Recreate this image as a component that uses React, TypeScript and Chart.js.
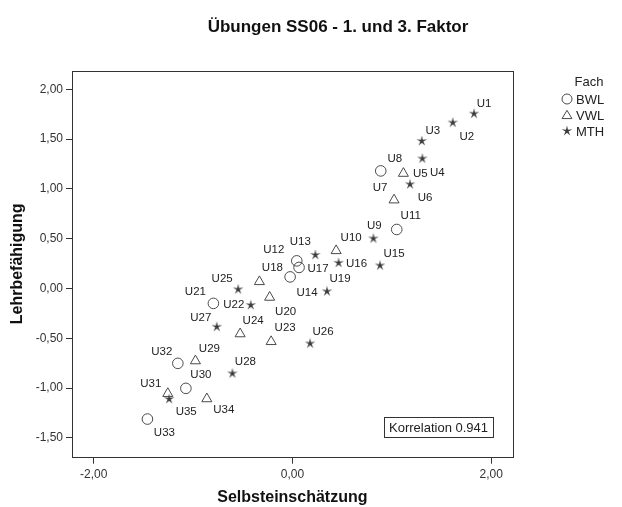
import React, { useEffect, useRef } from 'react';
import { Chart, registerables } from 'chart.js';

Chart.register(...registerables);

// ---------- texts ----------
const chartTitle = 'Übungen SS06 - 1. und 3. Faktor';
const xAxisTitle = 'Selbsteinschätzung';
const yAxisTitle = 'Lehrbefähigung';
const legendTitle = 'Fach';
const correlationText = 'Korrelation 0.941';

// ---------- data ----------
const groupNames = ['BWL', 'VWL', 'MTH'];

const bwlLabels = ['U8', 'U11', 'U12', 'U17', 'U14', 'U21', 'U32', 'U30', 'U33'];
const bwlX = [0.889, 1.05, 0.044, 0.067, -0.023, -0.795, -1.153, -1.072, -1.459];
const bwlY = [1.181, 0.593, 0.278, 0.212, 0.117, -0.149, -0.751, -1.002, -1.31];

const vwlLabels = ['U5', 'U7', 'U10', 'U18', 'U20', 'U24', 'U23', 'U29', 'U31', 'U34'];
const vwlX = [1.117, 1.023, 0.44, -0.332, -0.229, -0.526, -0.214, -0.976, -1.254, -0.861];
const vwlY = [1.156, 0.889, 0.38, 0.069, -0.088, -0.455, -0.533, -0.726, -1.054, -1.107];

const mthLabels = ['U1', 'U2', 'U3', 'U4', 'U6', 'U9', 'U13', 'U16', 'U15', 'U19', 'U25', 'U22', 'U27', 'U26', 'U28', 'U35'];
const mthX = [1.828, 1.614, 1.302, 1.308, 1.184, 0.815, 0.231, 0.465, 0.882, 0.348, -0.546, -0.419, -0.761, 0.178, -0.604, -1.24];
const mthY = [1.756, 1.666, 1.481, 1.305, 1.047, 0.503, 0.338, 0.258, 0.232, -0.028, -0.008, -0.166, -0.384, -0.551, -0.852, -1.109];

const xTicks = [-2, 0, 2];
const yTicks = [-1.5, -1, -0.5, 0, 0.5, 1, 1.5, 2];
const xRange = [-2.218, 2.217];
const yRange = [-1.688, 2.184];

// ---------- label placement (pixel offsets from each point) ----------
const labelOffsets: Record<string, [number, number]> = {
  U1: [10, -10], U2: [14, 14], U3: [11, -10], U4: [15, 14], U5: [17, 0],
  U6: [15, 14], U7: [-14, -12], U8: [14, -12], U9: [1, -13], U10: [15, -13],
  U11: [14, -14], U12: [-23, -11], U13: [-15, -13], U14: [17, 16], U15: [14, -12],
  U16: [18, 1], U17: [19, 1], U18: [13, -14], U19: [13, -13], U20: [16, 15],
  U21: [-18, -12], U22: [-17, 0], U23: [14, -14], U24: [13, -13], U25: [-16, -11],
  U26: [13, -12], U27: [-16, -9], U28: [13, -12], U29: [14, -12], U30: [15, -14],
  U31: [-17, -10], U32: [-16, -12], U33: [17, 14], U34: [17, 11], U35: [17, 13],
};

const FONT = '"Liberation Sans", Arial, sans-serif';
const MARK = '#4a4a4a';
const INK = '#222';

function makeStar(size: number, color: string): HTMLCanvasElement {
  const c = document.createElement('canvas');
  c.width = size;
  c.height = size;
  const g = c.getContext('2d')!;
  const cx = size / 2;
  const cy = size / 2;
  const R = size / 2 - 0.5;
  const r = R * 0.3;
  g.beginPath();
  for (let i = 0; i < 10; i++) {
    const ang = -Math.PI / 2 + (i * Math.PI) / 5;
    const rad = i % 2 === 0 ? R : r;
    g.lineTo(cx + rad * Math.cos(ang), cy + rad * Math.sin(ang));
  }
  g.closePath();
  g.fillStyle = color;
  g.fill();
  return c;
}

function toPoints(xs: number[], ys: number[]) {
  return xs.map((x, i) => ({ x, y: ys[i] }));
}

const fmt = (v: number) => v.toFixed(2).replace('.', ',');

export default function App() {
  const ref = useRef<HTMLCanvasElement | null>(null);

  useEffect(() => {
    if (!ref.current) return;
    const star = makeStar(12, '#3a3a3a');

    const drawMarker = (ctx: CanvasRenderingContext2D, style: string, x: number, y: number) => {
      ctx.save();
      ctx.strokeStyle = MARK;
      ctx.lineWidth = 1;
      if (style === 'circle') {
        ctx.beginPath();
        ctx.arc(x, y, 5, 0, Math.PI * 2);
        ctx.stroke();
      } else if (style === 'triangle') {
        const r = 5.5;
        ctx.beginPath();
        ctx.moveTo(x, y - r * 0.85);
        ctx.lineTo(x + r * 0.9, y + r * 0.65);
        ctx.lineTo(x - r * 0.9, y + r * 0.65);
        ctx.closePath();
        ctx.stroke();
      } else {
        ctx.drawImage(star, x - star.width / 2, y - star.height / 2);
      }
      ctx.restore();
    };

    const decor = {
      id: 'decor',
      beforeDatasetsDraw(chart: any) {
        const { ctx, chartArea: a } = chart;
        ctx.save();
        ctx.strokeStyle = '#333';
        ctx.lineWidth = 1;
        ctx.strokeRect(
          Math.round(a.left) + 0.5,
          Math.round(a.top) + 0.5,
          Math.round(a.right) - Math.round(a.left),
          Math.round(a.bottom) - Math.round(a.top)
        );
        ctx.restore();
      },
      afterDatasetsDraw(chart: any) {
        const { ctx, chartArea: a } = chart;
        ctx.save();
        // point labels
        ctx.font = `11.5px ${FONT}`;
        ctx.fillStyle = INK;
        ctx.textAlign = 'center';
        ctx.textBaseline = 'middle';
        chart.data.datasets.forEach((ds: any, di: number) => {
          const meta = chart.getDatasetMeta(di);
          meta.data.forEach((el: any, j: number) => {
            const name = ds.pointNames[j];
            const off = labelOffsets[name] || [12, -12];
            ctx.fillText(name, el.x + off[0], el.y + off[1]);
          });
        });

        // correlation box
        ctx.font = `13px ${FONT}`;
        const tw = ctx.measureText(correlationText).width;
        const bw = Math.round(tw + 10);
        const bh = 20;
        const bx = Math.round(a.right - 20 - bw);
        const by = Math.round(a.bottom - 20 - bh);
        ctx.fillStyle = '#fff';
        ctx.fillRect(bx, by, bw, bh);
        ctx.strokeStyle = '#333';
        ctx.strokeRect(bx + 0.5, by + 0.5, bw, bh);
        ctx.fillStyle = INK;
        ctx.textAlign = 'left';
        ctx.fillText(correlationText, bx + 5, by + bh / 2 + 1);

        // chart title
        ctx.font = `bold 17px ${FONT}`;
        ctx.textAlign = 'center';
        ctx.fillStyle = '#111';
        ctx.fillText(chartTitle, 338, 27);

        // legend
        ctx.font = `13px ${FONT}`;
        ctx.fillStyle = INK;
        ctx.fillText(legendTitle, 589, 82);
        chart.data.datasets.forEach((ds: any, di: number) => {
          const y = 99 + di * 16;
          drawMarker(ctx, ds.markerKind, 567, y);
          ctx.fillStyle = INK;
          ctx.textAlign = 'left';
          ctx.fillText(ds.label, 576, y + 1);
        });
        ctx.restore();
      },
    };

    const tickFont = { family: FONT, size: 12 };
    const titleFont = { family: FONT, size: 16, weight: 'bold' as const };

    const chart = new Chart(ref.current, {
      type: 'scatter',
      data: {
        datasets: [
          {
            label: groupNames[0],
            data: toPoints(bwlX, bwlY),
            pointStyle: 'circle',
            pointRadius: 5.3,
            borderColor: MARK,
            backgroundColor: 'rgba(0,0,0,0)',
            borderWidth: 1,
            pointNames: bwlLabels,
            markerKind: 'circle',
          } as any,
          {
            label: groupNames[1],
            data: toPoints(vwlX, vwlY),
            pointStyle: 'triangle',
            pointRadius: 5.8,
            borderColor: MARK,
            backgroundColor: 'rgba(0,0,0,0)',
            borderWidth: 1,
            pointNames: vwlLabels,
            markerKind: 'triangle',
          } as any,
          {
            label: groupNames[2],
            data: toPoints(mthX, mthY),
            pointStyle: star,
            pointRadius: 6,
            borderColor: MARK,
            backgroundColor: MARK,
            pointNames: mthLabels,
            markerKind: 'star',
          } as any,
        ],
      },
      options: {
        responsive: false,
        animation: false,
        devicePixelRatio: 1,
        layout: { padding: { left: 6, right: 109.3, top: 71, bottom: 0 } },
        plugins: {
          legend: { display: false },
          title: { display: false },
          tooltip: { enabled: false },
        },
        scales: {
          x: {
            type: 'linear',
            position: 'bottom',
            min: xRange[0],
            max: xRange[1],
            afterBuildTicks: (s: any) => {
              s.ticks = xTicks.map((v) => ({ value: v }));
            },
            afterFit: (s: any) => {
              s.height = 50.3;
            },
            ticks: {
              font: tickFont,
              color: '#333',
              padding: 4,
              maxRotation: 0,
              callback: (v: any) => fmt(Number(v)),
            },
            grid: { drawOnChartArea: false, drawTicks: true, tickLength: 7, color: '#333' },
            border: { display: false },
            title: { display: true, text: xAxisTitle, font: titleFont, color: '#111', padding: { top: 0, bottom: 0 } },
          },
          y: {
            type: 'linear',
            position: 'left',
            min: yRange[0],
            max: yRange[1],
            afterBuildTicks: (s: any) => {
              s.ticks = yTicks.map((v) => ({ value: v }));
            },
            afterFit: (s: any) => {
              s.width = 66;
            },
            ticks: {
              font: tickFont,
              color: '#333',
              padding: 3,
              callback: (v: any) => fmt(Number(v)),
            },
            grid: { drawOnChartArea: false, drawTicks: true, tickLength: 6, color: '#333' },
            border: { display: false },
            title: { display: true, text: yAxisTitle, font: titleFont, color: '#111', padding: { top: 2, bottom: 0 } },
          },
        },
      },
      plugins: [decor],
    });

    return () => chart.destroy();
  }, []);

  return (
    <div style={{ position: 'absolute', left: 0, top: 0, width: 622, height: 507, background: '#fff' }}>
      <canvas ref={ref} width={622} height={507} style={{ display: 'block' }} />
    </div>
  );
}
